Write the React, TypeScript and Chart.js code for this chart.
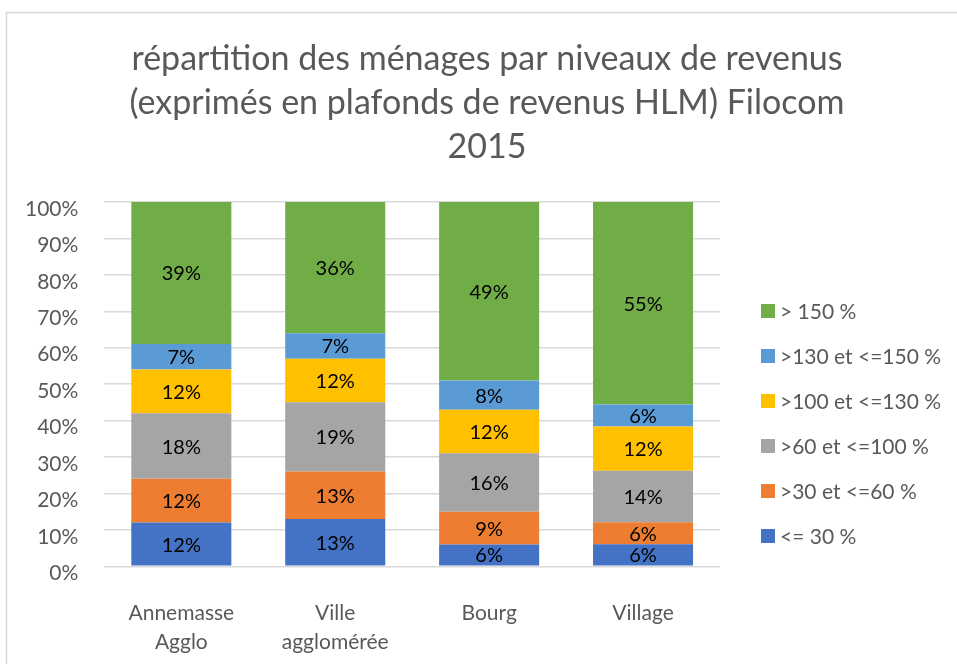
import React, { useEffect, useRef } from "react";
import { Chart, registerables } from "chart.js";

Chart.register(...registerables);

// ---- Data ----
const categories: (string | string[])[] = [["Annemasse", "Agglo"], ["Ville", "agglomérée"], "Bourg", "Village"];
const seriesNames = ["<= 30 %", ">30 et <=60 %", ">60 et <=100 %", ">100 et <=130 %", ">130 et <=150 %", "> 150 %"];
const le30 = [12, 13, 6, 6];
const s30to60 = [12, 13, 9, 6];
const s60to100 = [18, 19, 16, 14];
const s100to130 = [12, 12, 12, 12];
const s130to150 = [7, 7, 8, 6];
const gt150 = [39, 36, 49, 55];
const yTickValues = [0, 10, 20, 30, 40, 50, 60, 70, 80, 90, 100];
const titleLines = [
  "répartition des ménages par niveaux de revenus",
  "(exprimés en plafonds de revenus HLM) Filocom",
  "2015",
];

const seriesValues = [le30, s30to60, s60to100, s100to130, s130to150, gt150];
const seriesColors = ["#4472C4", "#ED7D31", "#A5A5A5", "#FFC000", "#5B9BD5", "#70AD47"];

const FONT = "Lato, 'Open Sans', sans-serif";
const CANVAS_H = 700;

export default function App() {
  const ref = useRef<HTMLCanvasElement | null>(null);

  useEffect(() => {
    const canvas = ref.current;
    if (!canvas) return;

    const totals = categories.map((_, j) => seriesValues.reduce((s, arr) => s + arr[j], 0));

    const decor = {
      id: "decor",
      beforeDraw(chart: any) {
        const ctx = chart.ctx;
        ctx.save();
        ctx.fillStyle = "#ffffff";
        ctx.fillRect(0, 0, chart.width, chart.height);
        ctx.strokeStyle = "#D9D9D9";
        ctx.lineWidth = 1.5;
        ctx.strokeRect(6.5, 12.5, 1400, 1400);
        ctx.restore();
      },
      afterDraw(chart: any) {
        const ctx = chart.ctx;
        const area = chart.chartArea;
        ctx.save();
        // title
        ctx.fillStyle = "#595959";
        ctx.font = `34px ${FONT}`;
        ctx.textAlign = "center";
        ctx.textBaseline = "alphabetic";
        const baselines = [70, 114, 158];
        titleLines.forEach((t, i) => ctx.fillText(t, 487, baselines[i]));

        // data labels
        ctx.font = `20px ${FONT}`;
        ctx.fillStyle = "#000000";
        ctx.textBaseline = "middle";
        seriesValues.forEach((vals, i) => {
          const meta = chart.getDatasetMeta(i);
          meta.data.forEach((bar: any, j: number) => {
            const p = bar.getProps(["x", "y", "base"], true);
            ctx.fillText(vals[j] + "%", p.x, (p.y + p.base) / 2 + 1);
          });
        });

        // legend (reversed order)
        ctx.font = `21px ${FONT}`;
        ctx.textAlign = "left";
        const bx = area.right + 41;
        const startY = area.top + 109;
        const n = seriesNames.length;
        for (let k = 0; k < n; k++) {
          const idx = n - 1 - k;
          const cy = startY + k * 45;
          ctx.fillStyle = seriesColors[idx];
          ctx.fillRect(bx, cy - 7, 14, 14);
          ctx.fillStyle = "#595959";
          ctx.fillText(seriesNames[idx], bx + 19, cy + 1);
        }
        ctx.restore();
      },
    };

    const chart = new Chart(canvas, {
      type: "bar",
      data: {
        labels: categories as any,
        datasets: seriesValues.map((vals, i) => ({
          label: seriesNames[i],
          data: vals.map((v, j) => (v / totals[j]) * 100),
          backgroundColor: seriesColors[i],
          borderWidth: 0,
          barPercentage: 0.65,
          categoryPercentage: 1,
        })),
      },
      options: {
        responsive: false,
        animation: false,
        layout: { padding: { top: 202, left: -1, right: 237, bottom: 11 } },
        plugins: {
          legend: { display: false },
          title: { display: false },
          tooltip: { enabled: false },
        },
        scales: {
          x: {
            stacked: true,
            grid: { display: false, drawTicks: false },
            border: { display: false },
            ticks: {
              color: "#595959",
              font: { family: FONT, size: 21, lineHeight: 1.35 },
              padding: 33,
              maxRotation: 0,
            },
          },
          y: {
            stacked: true,
            min: 0,
            max: 100,
            afterBuildTicks(scale: any) {
              scale.ticks = yTickValues.map((v) => ({ value: v }));
            },
            grid: { color: "#D9D9D9", lineWidth: 1.5, drawTicks: false },
            border: { display: false },
            ticks: {
              color: "#595959",
              font: { family: FONT, size: 21 },
              padding: 26,
              labelOffset: 7,
              callback: (v: any) => v + "%",
            },
          },
        },
      },
      plugins: [decor],
    });

    return () => chart.destroy();
  }, []);

  return (
    <div style={{ position: "fixed", left: 0, top: 0, width: 957, height: 664, overflow: "hidden", background: "#fff" }}>
      <canvas ref={ref} width={957} height={CANVAS_H} style={{ display: "block" }} />
    </div>
  );
}
